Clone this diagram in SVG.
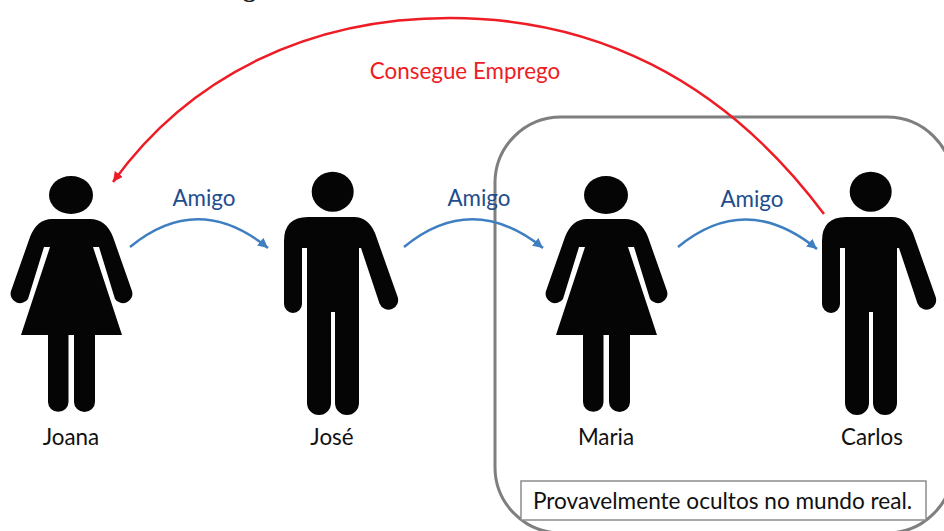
<svg xmlns="http://www.w3.org/2000/svg" width="944" height="531" viewBox="0 0 944 531">
<style>
text{font-family:"Lato","Liberation Sans",sans-serif;font-size:22.400px}
.n{fill:#111;text-anchor:middle}
.a{fill:#1f4e8c;text-anchor:middle}
.fig{fill:#050505}
.blue{fill:none;stroke:#3f7fc1;stroke-width:2.500;marker-end:url(#ab)}
</style>
<defs>
<marker id="ab" markerUnits="userSpaceOnUse" markerWidth="12" markerHeight="12" refX="10" refY="5" orient="auto"><path d="M0 0L10 5L0 10Z" fill="#3f7fc1"/></marker>
<marker id="ar" markerUnits="userSpaceOnUse" markerWidth="12" markerHeight="12" refX="10" refY="5" orient="auto"><path d="M0 0L10 5L0 10Z" fill="#ee1c25"/></marker>
<g id="woman" class="fig">
<ellipse cx="71" cy="195" rx="22" ry="19"/>
<path d="M52 219H90Q106 219 113 237L132 291A9.500 9.500 0 0 1 115 299L99 247H93L122 335H95V402A10 9.500 0 0 1 74 402V335H68.500V402A10 9.500 0 0 1 48 402V335H21L50 247H44L28 299A9.500 9.500 0 0 1 11 291L30 237Q37 219 52 219Z"/>
</g>
<g id="man" class="fig">
<ellipse cx="332.700" cy="191.700" rx="21" ry="20"/>
<path d="M308 217H354Q368 217 375 233L397.500 296.500A9.500 9.500 0 0 1 379.500 303.500L361 248H359V403A12 12 0 0 1 335 403V312H331V403A12 12 0 0 1 307 403V248H302V304A9 9 0 0 1 284 304V241Q284 217 308 217Z"/>
</g>
</defs>
<text x="243" y="-3" fill="#222" style="font-family:'Liberation Serif',serif;font-size:26px;font-weight:700">g</text>
<g id="hidden-area"><rect x="495" y="117" width="458" height="416" rx="66" ry="66" fill="none" stroke="#7f7f7f" stroke-width="3"/></g>
<g id="joana"><use href="#woman"/><text class="n" x="71" y="444.500">Joana</text></g>
<g id="jose"><use href="#man"/><text class="n" x="332" y="444.500">José</text></g>
<g id="maria"><use href="#woman" x="535"/><text class="n" x="606" y="444.500">Maria</text></g>
<g id="carlos"><use href="#man" x="538"/><text class="n" x="872" y="444.500">Carlos</text></g>
<g id="note"><rect x="521" y="481" width="405" height="39" fill="#fff" stroke="#8c8c8c" stroke-width="1.500"/><text x="533" y="509" fill="#111" style="font-size:22.600px">Provavelmente ocultos no mundo real.</text></g>
<g id="connectors">
<path class="blue" d="M130 247Q198 191 268 248"/>
<path class="blue" d="M404 247Q472 191 543 248"/>
<path class="blue" d="M678 247Q746 191 817 249"/>
<path d="M824 214C720 75 590 18 450 18C310 18 190 75 113 182" fill="none" stroke="#ee1c25" stroke-width="2.500" marker-end="url(#ar)"/>
</g>
<g id="labels">
<text class="a" x="204" y="206">Amigo</text>
<text class="a" x="479" y="206">Amigo</text>
<text class="a" x="752" y="207">Amigo</text>
<text x="465" y="79" fill="#ee1c25" text-anchor="middle">Consegue Emprego</text>
</g>
</svg>
